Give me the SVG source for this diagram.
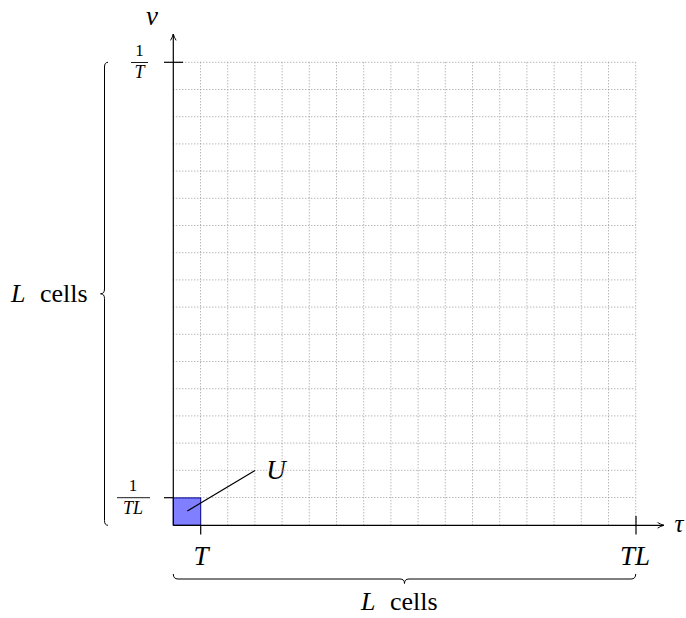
<svg xmlns="http://www.w3.org/2000/svg" width="686" height="618" viewBox="0 0 686 618">
<defs>
<marker id="arr" viewBox="0 0 10 10" refX="9" refY="5" markerWidth="8" markerHeight="8" orient="auto" markerUnits="userSpaceOnUse">
<path d="M1,1.5 Q5,4 9,5 Q5,6 1,8.5" fill="none" stroke="#000" stroke-width="1.2"/>
</marker>
</defs>
<rect width="686" height="618" fill="#fff"/>
<text x="152" y="25" font-size="27" font-family="Liberation Serif" font-style="italic" text-anchor="middle">ν</text>
<text x="679" y="532" font-size="25" font-family="Liberation Serif" font-style="italic" text-anchor="middle">τ</text>
<text x="139.5" y="56" font-size="17" font-family="Liberation Serif" text-anchor="middle">1</text>
<text x="139.5" y="78" font-size="18" font-family="Liberation Serif" font-style="italic" text-anchor="middle">T</text>
<text x="133" y="491" font-size="17" font-family="Liberation Serif" text-anchor="middle">1</text>
<text x="133" y="514" font-size="18" font-family="Liberation Serif" font-style="italic" text-anchor="middle">TL</text>
<text x="201" y="565" font-size="27" font-family="Liberation Serif" font-style="italic" text-anchor="middle">T</text>
<text x="635" y="565" font-size="27" font-family="Liberation Serif" font-style="italic" text-anchor="middle">TL</text>
<text x="276" y="479" font-size="27" font-family="Liberation Serif" font-style="italic" text-anchor="middle">U</text>
<text x="11" y="302" font-size="26" font-family="Liberation Serif" font-style="italic">L</text>
<text x="40" y="302" font-size="26" font-family="Liberation Serif">cells</text>
<text x="361" y="610" font-size="26" font-family="Liberation Serif" font-style="italic">L</text>
<text x="390" y="610" font-size="26" font-family="Liberation Serif">cells</text>
<g id="grid" stroke="#999" stroke-width="1" stroke-dasharray="1 2" fill="none">
<path d="M200.5,62.3V525.3M227.7,62.3V525.3M254.9,62.3V525.3M282.1,62.3V525.3M309.3,62.3V525.3M336.5,62.3V525.3M363.7,62.3V525.3M390.9,62.3V525.3M418.1,62.3V525.3M445.3,62.3V525.3M472.5,62.3V525.3M499.7,62.3V525.3M526.9,62.3V525.3M554.1,62.3V525.3M581.3,62.3V525.3M608.5,62.3V525.3M635.7,62.3V525.3"/>
<path d="M173.3,62.3H635.7M173.3,89.5H635.7M173.3,116.7H635.7M173.3,143.9H635.7M173.3,171.1H635.7M173.3,198.3H635.7M173.3,225.5H635.7M173.3,252.7H635.7M173.3,279.9H635.7M173.3,307.1H635.7M173.3,334.3H635.7M173.3,361.5H635.7M173.3,388.7H635.7M173.3,415.9H635.7M173.3,443.1H635.7M173.3,470.3H635.7M173.3,497.5H635.7"/>
</g>
<g id="cellU">
<rect x="173.3" y="497.9" width="27.4" height="27.4" fill="#7f7fff" stroke="#00008b" stroke-width="1"/>
</g>
<g id="connectors" stroke="#000" stroke-width="1.2" fill="none">
<line x1="173.3" y1="525.3" x2="664" y2="525.3" marker-end="url(#arr)"/>
<line x1="173.3" y1="525.3" x2="173.3" y2="34" marker-end="url(#arr)"/>
<line x1="164" y1="62.3" x2="183" y2="62.3"/>
<line x1="164" y1="497.7" x2="173.3" y2="497.7"/>
<line x1="200.7" y1="525.3" x2="200.7" y2="534.5"/>
<line x1="636" y1="516" x2="636" y2="534.5"/>
<line x1="187.3" y1="511" x2="255" y2="470.5"/>
<line stroke-width="0.9" x1="131" y1="62.5" x2="148" y2="62.5"/>
<line stroke-width="0.9" x1="117" y1="497.7" x2="150" y2="497.7"/>
<path stroke-width="1" d="M108,62.3 Q104.5,62.3 104.5,67 L104.5,289 Q104.5,293.8 100.5,293.8 Q104.5,293.8 104.5,298.6 L104.5,520.5 Q104.5,525.3 108,525.3"/>
<path stroke-width="1" d="M173.3,574 Q173.3,579 178,579 L400,579 Q404.5,579 404.5,583.5 Q404.5,579 409,579 L631,579 Q635.7,579 635.7,574"/>
</g>
</svg>
